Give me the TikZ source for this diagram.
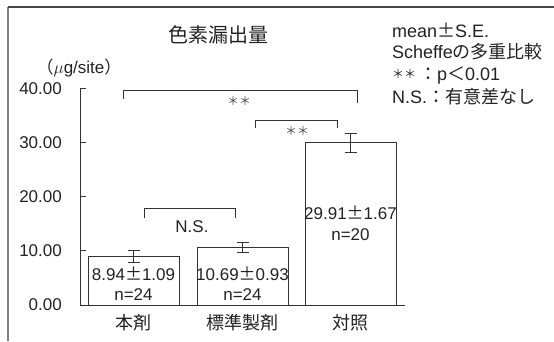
\documentclass[tikz,border=0pt]{standalone}
\usepackage{fontspec}
\setmainfont{Liberation Sans}
\newfontfamily\jp{Noto Sans CJK JP}
\newfontfamily\jpw[RawFeature=+fwid]{Noto Sans CJK JP}
\definecolor{ink}{HTML}{222222}
\definecolor{rule}{HTML}{333333}
\newcommand{\pmw}{{\jpw ±}}
\newcommand{\sstar}{{\jp\fontsize{12}{14}\selectfont ＊＊}}
\tikzset{
  num/.style={text=ink,font=\fontsize{17}{19}\selectfont,inner sep=0pt},
  cat/.style={text=ink,font=\jp\fontsize{18}{20}\selectfont,inner sep=0pt},
  legend/.style={text=ink,font=\fontsize{18}{20}\selectfont,inner sep=0pt,anchor=base west},
  star/.style={text=ink!80,font=\jp\fontsize{12}{14}\selectfont,inner sep=0pt},
  bar/.style={draw=rule,line width=0.9pt},
  err/.style={draw=rule,line width=0.8pt}
}
\begin{document}
\begin{tikzpicture}[x=1pt,y=1pt]
        \useasboundingbox (0,0) rectangle (554,341);
        % frame
        \draw[line width=1.4pt,color=gray] (8,0) -- (8,334);
        \draw[line width=1.4pt,color=rule!90] (8,334) -- (554,334);

        \node (title) at (218,306) [cat,font=\jp\fontsize{20}{22}\selectfont] {色素漏出量};
        \node (unit) at (79,273) [num] {{\jp （}$\mu$g/site{\jp ）}};

        \node (l1) at (392,304) [legend] {mean\pmw S.E.};
        \node (l2) at (392,283) [legend] {Scheffe{\jp の多重比較}};
        \node (l3) at (392,261) [legend] {\raisebox{2pt}{\sstar}\,{\jp ：}p{\jp ＜}0.01};
        \node (l4) at (392,238) [legend] {N.S.{\jp ：有意差なし}};

        \begin{scope}[shift={(80,36)},y=5.42pt]
          % axes
          \draw[rule,line width=0.9pt] (0,40) -- (0,0) -- (325,0);
          \foreach \v in {10,20,30,40}
            \draw[rule,line width=0.9pt] (0,\v) -- (6,\v);
          \foreach \v in {0,10,20,30,40}
            \node (y\v) at (-18,\v) [num,anchor=east] {\v.00};

          % bars
          \draw[bar] (8,0) rectangle (99,8.94);
          \draw[bar] (117,0) rectangle (208,10.69);
          \draw[bar] (225,0) rectangle (316,29.91);

          % error bars
          \foreach \c/\m/\s in {53.5/8.94/1.09,162.5/10.69/0.93,270.5/29.91/1.67} {
            \draw[err] (\c,\m-\s) -- (\c,\m+\s);
            \draw[err] (\c-6,\m-\s) -- (\c+6,\m-\s);
            \draw[err] (\c-6,\m+\s) -- (\c+6,\m+\s);
          }

          \node (v1) at (53.5,5.72) [num] {8.94\pmw 1.09};
          \node (n1) at (53.5,1.85) [num] {n=24};
          \node (v2) at (162.5,5.72) [num] {10.69\pmw 0.93};
          \node (n2) at (162.5,1.85) [num] {n=24};
          \node (v3) at (270.5,17.0) [num] {29.91\pmw 1.67};
          \node (n3) at (270.5,12.9) [num] {n=20};

          \node (c1) at (53.5,-3.3) [cat] {本剤};
          \node (c2) at (162.5,-3.3) [cat] {標準製剤};
          \node (c3) at (270.5,-3.3) [cat] {対照};

          % brackets
          \draw[err] (43,38.0) -- (43,39.67) -- (277,39.67) -- (277,37.27);
          \node (s1) at (159,37.6) [star] {＊＊};
          \draw[err] (175,32.66) -- (175,34.13) -- (257,34.13) -- (257,32.66);
          \node (s2) at (217,32.1) [star] {＊＊};
          \draw[err] (64,16.05) -- (64,17.9) -- (155,17.9) -- (155,16.05);
          \node (ns) at (112,14.4) [num] {N.S.};
        \end{scope}
      \end{tikzpicture}
\end{document}
